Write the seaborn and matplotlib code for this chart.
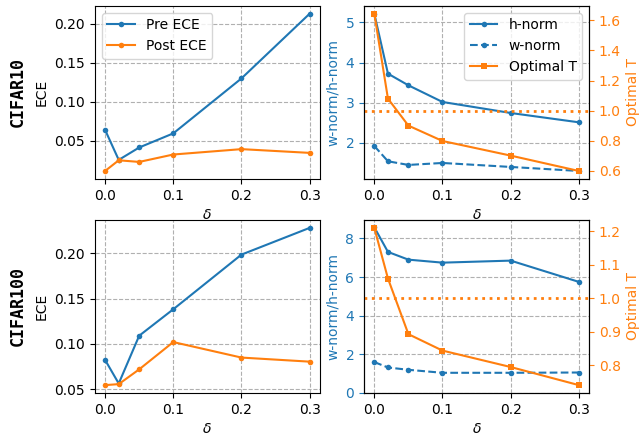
import matplotlib
matplotlib.use("Agg")
import matplotlib.pyplot as plt
import seaborn as sns
import pandas as pd

delta = [0.0, 0.02, 0.05, 0.1, 0.2, 0.3]

c10_pre_ece = [0.064, 0.0255, 0.0414, 0.0595, 0.130, 0.213]
c10_post_ece = [0.0113, 0.025, 0.0229, 0.0324, 0.0393, 0.0345]
c10_hnorm = [5.215, 3.724, 3.434, 3.02, 2.746, 2.514]
c10_wnorm = [1.925, 1.545, 1.454, 1.503, 1.404, 1.304]
c10_optT = [1.644, 1.080, 0.901, 0.799, 0.702, 0.600]

c100_pre_ece = [0.0823, 0.0563, 0.109, 0.1382, 0.1985, 0.228]
c100_post_ece = [0.0545, 0.0556, 0.0719, 0.102, 0.0849, 0.0804]
c100_hnorm = [8.575, 7.30, 6.90, 6.745, 6.85, 5.75]
c100_wnorm = [1.60, 1.32, 1.20, 1.045, 1.045, 1.06]
c100_optT = [1.21, 1.059, 0.893, 0.844, 0.795, 0.741]

datasets = ["CIFAR10", "CIFAR100"]

fig = plt.figure(figsize=(6.41, 4.33), dpi=100)

lefts = [0.148, 0.568]
width = 0.351
bottoms = [0.587, 0.0924]
height = 0.3995

rows = [
    (c10_pre_ece, c10_post_ece, c10_hnorm, c10_wnorm, c10_optT, False),
    (c100_pre_ece, c100_post_ece, c100_hnorm, c100_wnorm, c100_optT, True),
]

for r, (pre, post, hn, wn, ot, zero_bottom) in enumerate(rows):
    df = pd.DataFrame({"delta": delta, "pre": pre, "post": post,
                       "h": hn, "w": wn, "T": ot})
    ax = fig.add_axes([lefts[0], bottoms[r], width, height])
    sns.lineplot(data=df, x="delta", y="pre", ax=ax, color="C0", marker="o",
                 markersize=4, markeredgewidth=0, label="Pre ECE", legend=False)
    sns.lineplot(data=df, x="delta", y="post", ax=ax, color="C1", marker="o",
                 markersize=4, markeredgewidth=0, label="Post ECE", legend=False)
    ax.grid(True, linestyle="--", color="#b0b0b0", linewidth=0.8)
    ax.set_xlabel(r"$\delta$")
    ax.set_ylabel("ECE")
    ax.set_xticks([0.0, 0.1, 0.2, 0.3])
    if r == 0:
        ax.legend(loc="upper left", fontsize=10)
    fig.text(0.027, bottoms[r] + height / 2, datasets[r], rotation=90,
             ha="center", va="center", family="DejaVu Sans Mono",
             fontweight="bold", fontsize=12)

    ax1 = fig.add_axes([lefts[1], bottoms[r], width, height])
    sns.lineplot(data=df, x="delta", y="h", ax=ax1, color="C0", marker="o",
                 markersize=4, markeredgewidth=0, label="h-norm", legend=False)
    sns.lineplot(data=df, x="delta", y="w", ax=ax1, color="C0", marker="o",
                 markersize=4, markeredgewidth=0, linestyle="--",
                 label="w-norm", legend=False)
    ax1.grid(True, linestyle="--", color="#b0b0b0", linewidth=0.8)
    if zero_bottom:
        ax1.set_ylim(bottom=0)
    ax1.set_xlabel(r"$\delta$")
    ax1.set_ylabel("w-norm/h-norm", color="C0")
    ax1.tick_params(axis="y", colors="C0")
    ax1.set_xticks([0.0, 0.1, 0.2, 0.3])

    ax2 = ax1.twinx()
    sns.lineplot(data=df, x="delta", y="T", ax=ax2, color="C1", marker="s",
                 markersize=5, markeredgewidth=0, label="Optimal T", legend=False)
    ax2.axhline(1.0, color="C1", linestyle=":", linewidth=2)
    ax2.set_ylabel("Optimal T", color="C1")
    ax2.tick_params(axis="y", colors="C1")
    ax2.grid(False)
    if r == 0:
        h1, l1 = ax1.get_legend_handles_labels()
        h2, l2 = ax2.get_legend_handles_labels()
        ax2.legend(h1 + h2, l1 + l2, loc="upper right", fontsize=10)

fig.savefig("out.png", dpi=100)
